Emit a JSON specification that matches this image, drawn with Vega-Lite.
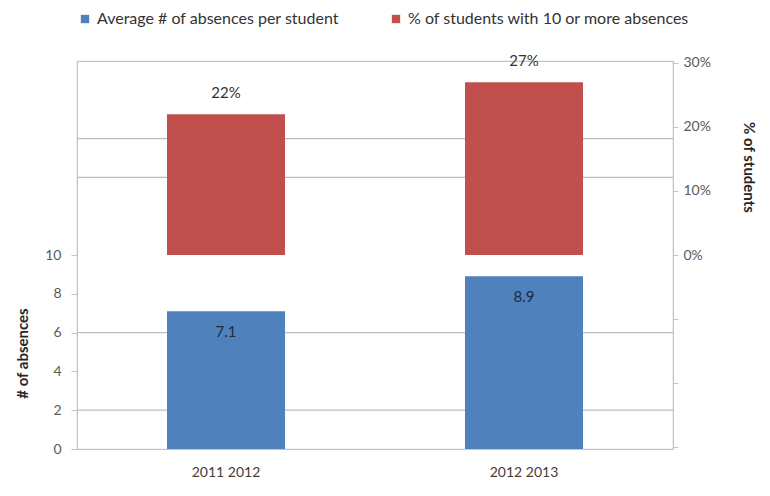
{
  "$schema": "https://vega.github.io/schema/vega-lite/v6.json",
  "autosize": {"type": "none"},
  "width": 596,
  "height": 388,
  "padding": {"left": 77, "top": 61, "right": 97, "bottom": 47},
  "background": "white",
  "config": {
    "font": "Lato",
    "view": {"stroke": "#c4c4c4", "strokeWidth": 1.2},
    "axis": {"labelFont": "Lato", "titleFont": "Lato", "labelColor": "#595959", "labelFontSize": 14, "domainColor": "#c4c4c4", "tickColor": "#c4c4c4"}
  },
  "datasets": {
    "bars": [
      {"year": "2011 2012", "series": "Average # of absences per student", "value": 7.1},
      {"year": "2012 2013", "series": "Average # of absences per student", "value": 8.9},
      {"year": "2011 2012", "series": "% of students with 10 or more absences", "value": 0.22},
      {"year": "2012 2013", "series": "% of students with 10 or more absences", "value": 0.27}
    ],
    "grid": [{"g": 2}, {"g": 6}, {"g": 14}, {"g": 16}]
  },
  "encoding": {
    "x": {
      "field": "year", "type": "nominal",
      "scale": {"paddingInner": 0.604, "paddingOuter": 0.302},
      "axis": {"title": null, "labelAngle": 0, "ticks": false, "labelPadding": 16, "labelColor": "#404040", "labelFontSize": 14}
    }
  },
  "layer": [
    {
      "data": {"name": "grid"},
      "mark": {"type": "rule", "color": "#bdbdbd", "strokeWidth": 1.2},
      "encoding": {
        "x": {"value": 0},
        "x2": {"value": 596},
        "y": {"field": "g", "type": "quantitative", "scale": {"domain": [0, 20], "nice": false}, "axis": null}
      }
    },
    {
      "data": {"name": "bars"},
      "transform": [{"filter": "datum.series === 'Average # of absences per student'"}],
      "encoding": {
        "y": {
          "field": "value", "type": "quantitative",
          "scale": {"domain": [0, 20], "nice": false},
          "axis": {
            "orient": "left", "values": [0, 2, 4, 6, 8, 10], "grid": false, "tickSize": 6, "labelPadding": 10,
            "title": "# of absences", "titleFontSize": 15, "titleFontWeight": "bold", "titleColor": "#262626",
            "titleAngle": -90, "titleX": -55, "titleY": 292, "titleAlign": "center", "titleBaseline": "middle"
          }
        }
      },
      "layer": [
        {
          "mark": {"type": "bar"},
          "encoding": {
            "color": {
              "field": "series", "type": "nominal",
              "scale": {"domain": ["Average # of absences per student", "% of students with 10 or more absences"], "range": ["#4F81BD", "#C0504D"]},
              "legend": {
                "title": null, "orient": "none", "legendX": 0, "legendY": -50, "direction": "horizontal",
                "symbolType": "square", "symbolSize": 70, "symbolStrokeWidth": 0, "labelFontSize": 16,
                "labelColor": "#333333", "labelFont": "Lato", "columnPadding": 48, "labelOffset": 4, "labelLimit": 400
              }
            }
          }
        },
        {
          "mark": {"type": "text", "dy": 21, "fontSize": 15, "color": "#1f2a3a", "baseline": "middle"},
          "encoding": {"text": {"field": "value", "type": "quantitative", "format": ".1f"}}
        }
      ]
    },
    {
      "data": {"name": "bars"},
      "transform": [{"filter": "datum.series === '% of students with 10 or more absences'"}],
      "encoding": {
        "y": {
          "field": "value", "type": "quantitative",
          "scale": {"domain": [-0.303, 0.303], "nice": false, "zero": true},
          "axis": {
            "orient": "right", "values": [-0.3, -0.2, -0.1, 0, 0.1, 0.2, 0.3], "grid": false, "tickSize": 5, "labelPadding": 5,
            "labelExpr": "datum.value < -0.001 ? '' : format(datum.value, '.0%')",
            "title": "% of students", "titleFontSize": 15, "titleFontWeight": "bold", "titleColor": "#262626",
            "titleAngle": 90, "titleX": 75, "titleY": 106, "titleAlign": "center", "titleBaseline": "middle"
          }
        }
      },
      "layer": [
        {
          "mark": {"type": "bar"},
          "encoding": {"color": {"field": "series", "type": "nominal"}}
        },
        {
          "mark": {"type": "text", "dy": -13, "fontSize": 15, "color": "#333333", "baseline": "bottom"},
          "encoding": {"text": {"field": "value", "type": "quantitative", "format": ".0%"}}
        }
      ]
    }
  ],
  "resolve": {"scale": {"y": "independent"}, "axis": {"y": "independent"}}
}
